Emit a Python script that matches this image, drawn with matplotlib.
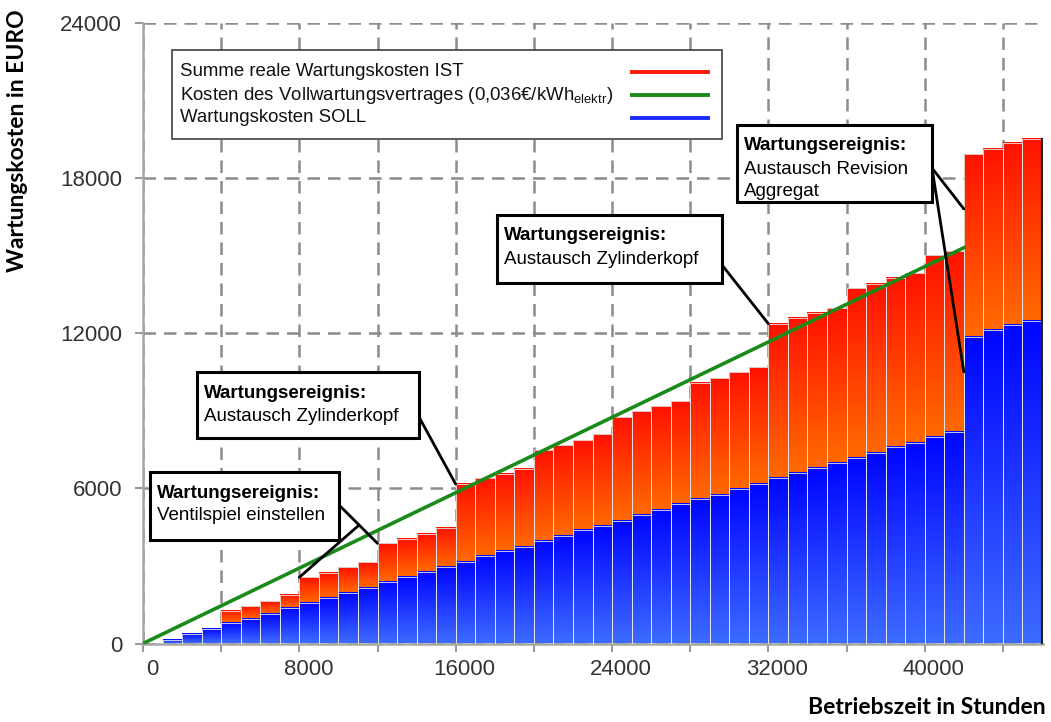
import numpy as np
import matplotlib
matplotlib.use("Agg")
import matplotlib.pyplot as plt
import matplotlib.transforms as mtransforms
from matplotlib.colors import LinearSegmentedColormap
from matplotlib.patches import Rectangle
from matplotlib.lines import Line2D

plt.rcParams['font.family'] = ['Liberation Sans', 'DejaVu Sans']
plt.rcParams['mathtext.fontset'] = 'custom'
plt.rcParams['mathtext.rm'] = 'Liberation Sans'

# Betriebsstunden: Beginn jedes 1000-h-Intervalls
stunden = list(range(1000, 46000, 1000))

# Wartungskosten SOLL (EUR, kumuliert)
soll = [140, 370, 550, 780, 960, 1150, 1360, 1570, 1770, 1960,
        2160, 2370, 2560, 2750, 2960, 3140, 3380, 3580, 3740, 3980,
        4170, 4390, 4560, 4750, 4970, 5160, 5390, 5580, 5750, 5990,
        6170, 6390, 6580, 6770, 6990, 7170, 7350, 7600, 7760, 8000,
        8190, 11860, 12110, 12300, 12480]

# Summe reale Wartungskosten IST (EUR, kumuliert)
ist = [0, 0, 0, 1270, 1460, 1640, 1880, 2560, 2740, 2950,
       3140, 3870, 4050, 4250, 4470, 6160, 6390, 6570, 6760, 7480,
       7670, 7860, 8090, 8760, 8990, 9180, 9360, 10080, 10270, 10500,
       10680, 12360, 12600, 12790, 12970, 13740, 13900, 14140, 14330, 15020,
       15180, 18930, 19120, 19360, 19520]

# Vollwartungsvertrag (linear)
vertrag_h = [0, 42000]
vertrag_eur = [0, 15300]

x_ticks = list(range(0, 46000, 4000))
y_ticks = [0, 6000, 12000, 18000, 24000]

W, H = 1051, 722


def fx(x):
    return x / W


def fy(y):
    return 1 - y / H


fig = plt.figure(figsize=(W / 100, H / 100), dpi=100)
ax = fig.add_axes([fx(143), fy(643.5), 900 / W, (643.5 - 22.7) / H])

blau = LinearSegmentedColormap.from_list('blau', ['#3d6bff', '#0005ff'])
rot = LinearSegmentedColormap.from_list('rot', ['#ff6a00', '#ff1200'])
verlauf = np.linspace(0, 1, 128).reshape(-1, 1)

# Balken mit Farbverlauf
for x, s, i in zip(stunden, soll, ist):
    if i > s:
        ax.imshow(verlauf, cmap=rot, origin='lower', aspect='auto',
                  extent=(x, x + 1000, s, i), zorder=2, interpolation='bilinear')
    ax.imshow(verlauf, cmap=blau, origin='lower', aspect='auto',
              extent=(x, x + 1000, 0, s), zorder=2, interpolation='bilinear')

ax.bar(stunden, ist, width=1000, align='edge', fill=False,
       edgecolor='#e4e4e4', lw=0.6, zorder=3)
ax.bar(stunden, soll, width=1000, align='edge', fill=False,
       edgecolor='#e4e4e4', lw=0.6, zorder=3)
ax.plot([stunden[-1] + 1000] * 2, [0, ist[-1]], color='#222222', lw=1.6, zorder=3)

ax.plot(vertrag_h, vertrag_eur, color='#1a8a1a', lw=2.6, zorder=4)

ax.set_xlim(0, 46050)
ax.set_ylim(0, 24000)
ax.set_axisbelow(True)
ax.grid(True, color='#8c8c8c', lw=1.8, linestyle=(0, (5, 3.2)))

ax.set_xticks(x_ticks)
ax.set_xticklabels([str(v) if v % 8000 == 0 else '' for v in x_ticks])
ax.set_yticks(y_ticks)
ax.tick_params(axis='both', colors='#999999', length=6, width=1.5,
               labelsize=16, labelcolor='#333333')
ax.tick_params(axis='x', pad=5)
ax.tick_params(axis='y', pad=9)
for lbl in ax.get_xticklabels():
    lbl.set_transform(lbl.get_transform() +
                      mtransforms.ScaledTranslation(0.09, 0, fig.dpi_scale_trans))

for side in ['top', 'right']:
    ax.spines[side].set_visible(False)
for side in ['left', 'bottom']:
    ax.spines[side].set_color('#a6a6a6')
    ax.spines[side].set_linewidth(1.8)

fig.text(fx(18), fy(141), 'Wartungskosten in EURO', rotation=90, ha='center',
         va='center', fontsize=16.5, fontweight='bold', family='Lato')
fig.text(fx(1046), fy(708), 'Betriebszeit in Stunden', ha='right', va='center',
         fontsize=16.5, fontweight='bold', family='Lato')

# Legende
fig.add_artist(Rectangle((fx(172), fy(139)), (722 - 172) / W, (139 - 50) / H,
                         transform=fig.transFigure, facecolor='white',
                         edgecolor='#404040', lw=1.2))
legende = [('Summe reale Wartungskosten IST', '#ff1a00', 72),
           ('Kosten des Vollwartungsvertrages (0,036€/kWh$_{\\mathregular{elektr}}$)', '#1a8a1a', 95),
           ('Wartungskosten SOLL', '#1a2aff', 118)]
for text, farbe, y in legende:
    fig.text(fx(180), fy(y), text, va='center', fontsize=13.4, color='#111111')
    fig.add_artist(Line2D([fx(632), fx(708)], [fy(y), fy(y)],
                          transform=fig.transFigure, color=farbe, lw=2.8))


def ereignis(x0, y0, x1, y1, zeilen):
    fig.add_artist(Rectangle((fx(x0), fy(y1)), (x1 - x0) / W, (y1 - y0) / H,
                             transform=fig.transFigure, facecolor='white',
                             edgecolor='black', lw=2.2, zorder=5))
    for n, z in enumerate(zeilen):
        fig.text(fx(x0 + 7), fy(y0 + 21 + 23 * n), z, va='center', fontsize=13.5,
                 fontweight='bold' if n == 0 else 'normal', zorder=6)


def zeiger(start, ziel):
    ax.annotate('', xy=ziel, xycoords='data', xytext=(fx(start[0]), fy(start[1])),
                textcoords='figure fraction', annotation_clip=False,
                arrowprops=dict(arrowstyle='-', color='black', lw=2.0,
                                shrinkA=0, shrinkB=0), zorder=6)


titel = 'Wartungsereignis:'
ereignis(150, 472, 339, 540, [titel, 'Ventilspiel einstellen'])
zeiger((339, 505), (stunden[11], ist[11]))
zeiger((358, 526), (stunden[7], ist[7]))

ereignis(197, 372, 419, 438, [titel, 'Austausch Zylinderkopf'])
zeiger((419, 417), (stunden[15], ist[15]))

ereignis(497, 215, 722, 283, [titel, 'Austausch Zylinderkopf'])
zeiger((722, 265), (stunden[31], ist[31]))

ereignis(737, 125, 932, 202, [titel, 'Austausch Revision', 'Aggregat'])
zeiger((932, 168), (stunden[41], 16800))
zeiger((932, 168), (stunden[41], 10500))

fig.savefig('out.png', dpi=100)
